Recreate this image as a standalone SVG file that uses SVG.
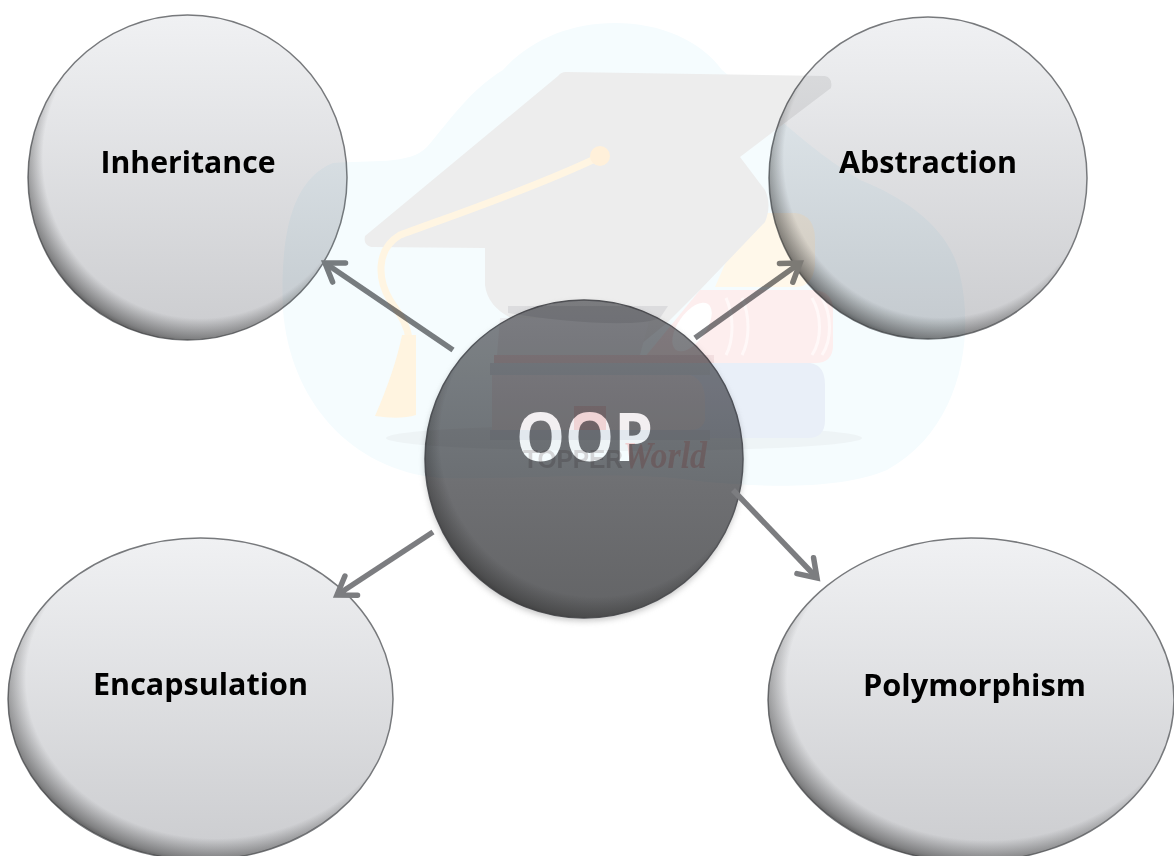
<svg xmlns="http://www.w3.org/2000/svg" width="1174" height="856" viewBox="0 0 1174 856">
<style>
.lbl{font-family:"Open Sans","Liberation Sans",sans-serif;font-weight:700;font-size:30px;fill:#000}
.oop{font-family:"Open Sans","Liberation Sans",sans-serif;font-weight:700;font-size:66px;fill:#fff}
.body{fill:url(#light);stroke:#77797c;stroke-width:1.5}
.rim{fill:url(#rim)}
.arrow{fill:none;stroke:#7c7d80;stroke-width:5.5;marker-end:url(#head)}
#watermark{mix-blend-mode:multiply}
</style>
<defs>
<linearGradient id="light" x1="0" y1="0" x2="0" y2="1"><stop offset="0" stop-color="#f0f1f3"/><stop offset="1" stop-color="#cbcccf"/></linearGradient>
<linearGradient id="dark" x1="0" y1="0" x2="0" y2="1"><stop offset="0" stop-color="#848589"/><stop offset="0.6" stop-color="#6e6f72"/><stop offset="1" stop-color="#636466"/></linearGradient>
<radialGradient id="rim" cx="0.54" cy="0.44" r="0.58"><stop offset="0.85" stop-color="#333" stop-opacity="0"/><stop offset="0.96" stop-color="#333" stop-opacity="0.5"/><stop offset="1" stop-color="#333" stop-opacity="0.8"/></radialGradient>
<filter id="soft" x="-10%" y="-10%" width="120%" height="120%"><feGaussianBlur stdDeviation="3"/></filter>
<marker id="head" markerUnits="userSpaceOnUse" markerWidth="30" markerHeight="30" refX="20" refY="15" orient="auto" overflow="visible"><path d="M3,3.500 L20,15 L3,26.500" fill="none" stroke="#7c7d80" stroke-width="5.500" stroke-linecap="round" stroke-linejoin="miter"/></marker>
</defs>
<rect width="1174" height="856" fill="#fff"/>
<g id="node-inheritance">
<ellipse class="body" cx="187.500" cy="177.500" rx="159.500" ry="162.500"/>
<ellipse class="rim" cx="187.500" cy="177.500" rx="159.500" ry="162.500"/>
<text class="lbl" x="188" y="173" text-anchor="middle" textLength="175" lengthAdjust="spacingAndGlyphs">Inheritance</text>
</g>
<g id="node-abstraction">
<ellipse class="body" cx="928" cy="178" rx="159" ry="161"/>
<ellipse class="rim" cx="928" cy="178" rx="159" ry="161"/>
<text class="lbl" x="928" y="173" text-anchor="middle" textLength="178" lengthAdjust="spacingAndGlyphs">Abstraction</text>
</g>
<g id="node-encapsulation">
<ellipse class="body" cx="200.500" cy="699" rx="192.500" ry="161"/>
<ellipse class="rim" cx="200.500" cy="699" rx="192.500" ry="161"/>
<text class="lbl" x="200.500" y="695" text-anchor="middle" textLength="215" lengthAdjust="spacingAndGlyphs">Encapsulation</text>
</g>
<g id="node-polymorphism">
<ellipse class="body" cx="971" cy="700" rx="203" ry="162"/>
<ellipse class="rim" cx="971" cy="700" rx="203" ry="162"/>
<text class="lbl" x="974.500" y="696" text-anchor="middle" textLength="223" lengthAdjust="spacingAndGlyphs">Polymorphism</text>
</g>
<g id="node-oop">
<ellipse cx="584" cy="462" rx="159" ry="159" fill="#888" opacity="0.5" filter="url(#soft)"/>
<ellipse cx="584" cy="459" rx="159" ry="159" fill="url(#dark)" stroke="#55565a" stroke-width="1.500"/>
<ellipse class="rim" cx="584" cy="459" rx="159" ry="159"/>
<text class="oop" x="584.500" y="461" text-anchor="middle" textLength="137" lengthAdjust="spacingAndGlyphs">OOP</text>
</g>
<g id="connectors">
<line class="arrow" x1="453" y1="350" x2="325" y2="263"/>
<line class="arrow" x1="695" y1="338" x2="800" y2="263"/>
<line class="arrow" x1="433" y1="532" x2="337" y2="595"/>
<line class="arrow" x1="733" y1="490" x2="817" y2="578"/>
</g>
<g id="watermark">
<path fill="#f5fcfe" d="M615,23 C660,23 700,40 722,70 C770,110 810,150 860,180 C910,200 950,230 960,275 C975,340 960,430 887,470 C840,490 760,488 690,480 C620,470 520,480 440,478 C350,470 290,400 283,310 C280,240 290,180 333,163 C370,160 410,165 427,147 C450,120 470,90 503,70 C530,40 570,23 615,23 Z"/>
<ellipse cx="624" cy="438" rx="238" ry="13" fill="#eef4f6"/>
<path fill="#fff8ea" d="M740,230 L750,213 L795,213 Q815,215 815,240 L815,265 Q813,287 795,287 L715,287 Z"/>
<path fill="#fdeeee" d="M700,290 L815,290 Q833,292 833,310 L833,345 Q833,363 815,363 L640,363 Z"/>
<path fill="none" stroke="#fff8f8" stroke-width="3" d="M726,298 C734,315 734,340 726,355 M742,298 C750,315 750,340 742,355 M812,298 C822,315 822,340 812,355 M822,298 C832,315 832,340 822,355"/>
<ellipse cx="692" cy="327" rx="14" ry="28" fill="#fff" transform="rotate(35 692 327)"/>
<path fill="#e9eff8" d="M680,363 L810,363 Q825,365 825,385 L825,420 Q825,438 808,438 L680,438 Z"/>
<path fill="#ededed" d="M566,72 L825,76 Q833,78 831,88 L740,157 L765,190 Q772,205 765,222 L700,290 L668,322 L640,345 L520,322 Q488,310 485,285 L485,248 L371,247 Q363,245 365,236 L558,76 Q561,72 566,72 Z"/>
<path fill="none" stroke="#fff5e2" stroke-width="7" stroke-linecap="round" d="M599,157 C530,190 440,220 400,235 C375,250 378,280 390,300 C400,315 408,325 409,340"/>
<circle cx="600" cy="156" r="10" fill="#fff0da"/>
<path fill="#fff4e0" d="M402,335 L416,335 L416,415 Q400,420 375,416 Q395,370 402,335 Z"/>
<rect x="490" y="363" width="220" height="12" fill="#e2e8ee"/>
<rect x="494" y="355" width="220" height="8" fill="#f3dfe0"/>
<path fill="#eff0f2" d="M500,318 L650,318 L640,355 L497,355 Z"/>
<path fill="#dcdcde" d="M508,313 C560,322 640,328 660,318 L668,306 L508,306 Z"/>
<path fill="#f3eff1" d="M492,375 L690,375 Q705,380 705,400 L705,420 Q703,430 690,430 L492,430 Z"/>
<rect x="490" y="430" width="220" height="10" fill="#e2e8ee"/>
<rect x="574" y="406" width="32" height="24" fill="#f0d4d5"/>
<text x="523" y="468" font-family="Liberation Sans, sans-serif" font-weight="700" font-size="25" fill="#d4d5d7" textLength="100" lengthAdjust="spacingAndGlyphs">TOPPER</text>
<text x="623" y="468" font-family="Liberation Serif, serif" font-style="italic" font-weight="700" font-size="38" fill="#f0d0d0" textLength="84" lengthAdjust="spacingAndGlyphs">World</text>
</g>
</svg>
